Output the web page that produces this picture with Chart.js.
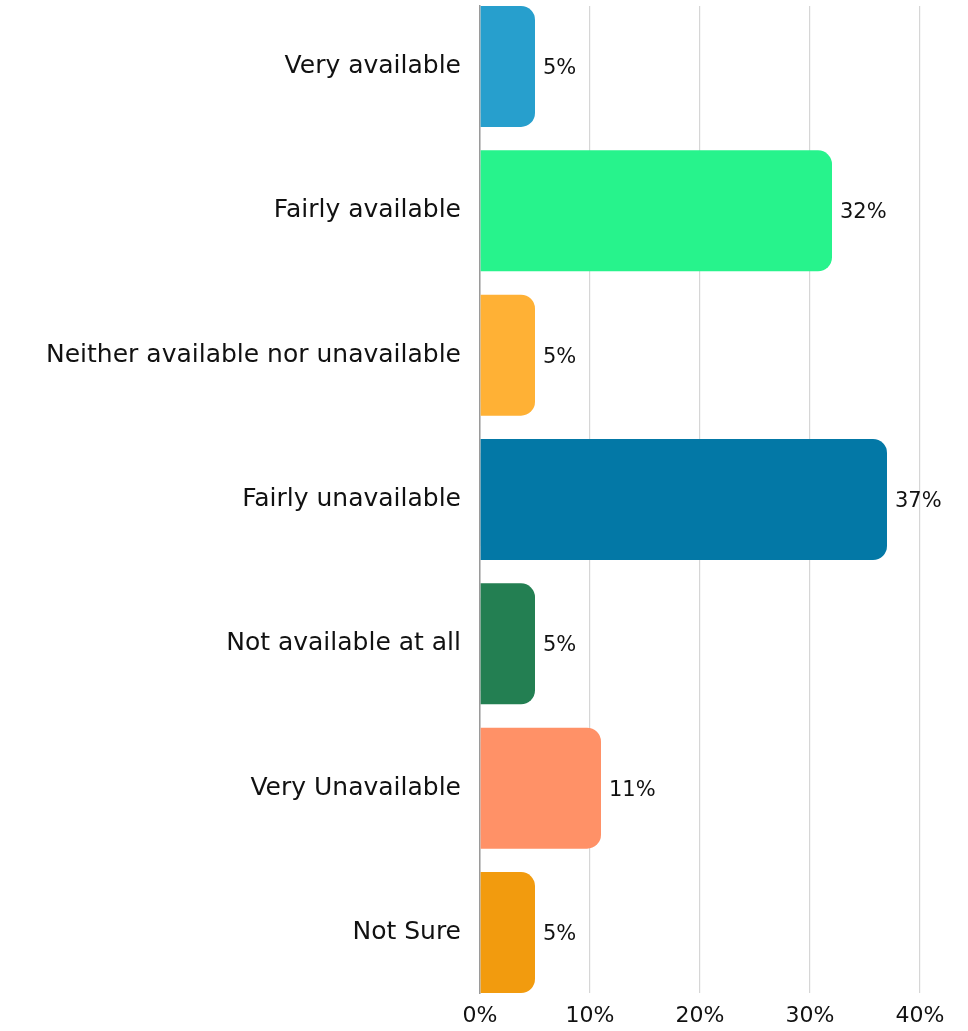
<!DOCTYPE html>
<html>
<head>
<meta charset="utf-8">
<script src="https://cdn.jsdelivr.net/npm/chart.js@4.4.0/dist/chart.umd.min.js"></script>
<style>
  html, body { margin: 0; padding: 0; background: #fff; overflow: hidden; }
  #wrap { position: relative; width: 968px; height: 1031px; }
</style>
</head>
<body>
<div id="wrap"><canvas id="chart"></canvas></div>
<script>
const labels = ['Very available', 'Fairly available', 'Neither available nor unavailable', 'Fairly unavailable', 'Not available at all', 'Very Unavailable', 'Not Sure'];
const values = [5, 32, 5, 37, 5, 11, 5];
const colors = ['#279fcd', '#27f38c', '#ffb135', '#0378a6', '#237f52', '#ff9167', '#f29b0e'];
const xTicks = [0, 10, 20, 30, 40];

const FONT = '"DejaVu Sans", sans-serif';

// labels at the end of each bar
const barLabels = {
    id: 'barLabels',
    afterDatasetsDraw(chart) {
        const ctx = chart.ctx;
        const meta = chart.getDatasetMeta(0);
        ctx.save();
        ctx.font = '21px ' + FONT;
        ctx.fillStyle = '#111';
        ctx.textAlign = 'left';
        ctx.textBaseline = 'middle';
        meta.data.forEach((bar, i) => {
            ctx.fillText(values[i] + '%', bar.x + 8, bar.y + 2);
        });
        ctx.restore();
    }
};

new Chart(document.getElementById('chart'), {
    type: 'bar',
    data: {
        datasets: [{
            data: values.map((v, i) => ({ x: v, y: i })),
            backgroundColor: colors,
            borderRadius: 14,
            borderSkipped: 'start',
            categoryPercentage: 1,
            barPercentage: 0.838
        }]
    },
    options: {
        indexAxis: 'y',
        responsive: true,
        maintainAspectRatio: false,
        animation: false,
        layout: { padding: { top: 6, right: 48, bottom: 0, left: 0 } },
        plugins: { legend: { display: false }, tooltip: { enabled: false } },
        scales: {
            x: {
                type: 'linear',
                min: 0, max: 40,
                afterBuildTicks: s => { s.ticks = xTicks.map(v => ({ value: v })); },
                afterFit: s => { s.height = 38; },
                grid: { color: '#d6d6d6', lineWidth: 1.2, drawTicks: false },
                border: { display: false },
                ticks: {
                    padding: 10,
                    color: '#111',
                    font: { family: FONT, size: 22 },
                    callback: v => v + '%'
                }
            },
            y: {
                type: 'linear',
                reverse: true,
                offset: false,
                min: -0.419, max: 6.419,
                afterBuildTicks: s => { s.ticks = labels.map((l, i) => ({ value: i })); },
                afterFit: s => { s.width = 480; s.paddingTop = 0; s.paddingBottom = 0; },
                grid: { display: false, offset: false },
                border: { display: true, color: '#9a9a9a', width: 1.5 },
                ticks: {
                    padding: 11,
                    color: '#111',
                    font: { family: FONT, size: 25 },
                    callback: v => labels[v]
                }
            }
        }
    },
    plugins: [barLabels]
});
</script>
</body>
</html>
